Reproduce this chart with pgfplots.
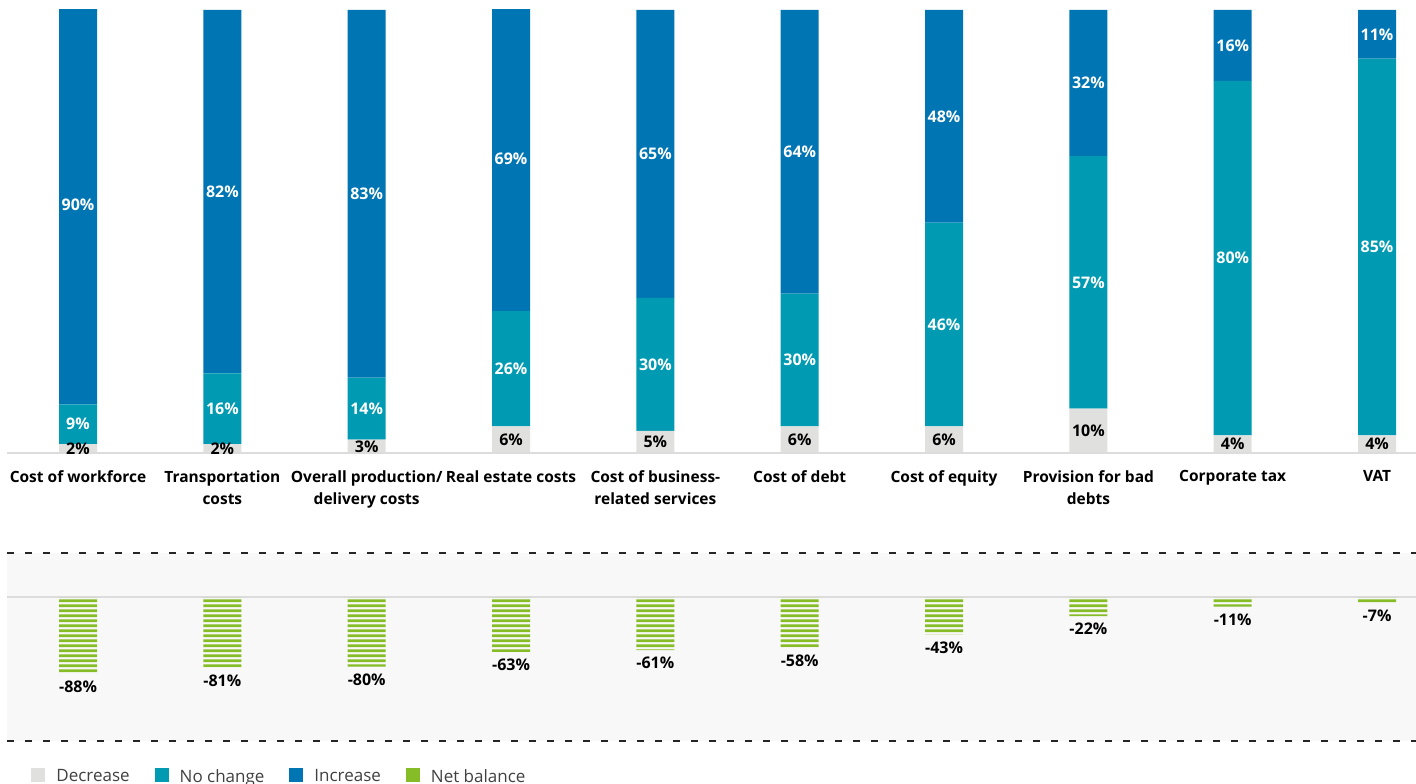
\documentclass[border=0pt]{standalone}
\usepackage{fontspec}
\setmainfont{Open Sans}
\usepackage{pgfplots}
\pgfplotsset{compat=1.18}
\usetikzlibrary{patterns.meta}
\definecolor{cDec}{HTML}{E0E0DE}
\definecolor{cNo}{HTML}{009AB2}
\definecolor{cInc}{HTML}{0075B3}
\definecolor{cGreen}{HTML}{86BC25}
\definecolor{cBand}{HTML}{F8F8F8}
\definecolor{cBase}{HTML}{DCDCDC}
\definecolor{cLeg}{HTML}{404040}
\pgfdeclarepattern{
  name=hstripes,
  type=uncolored,
  bottom left={\pgfpoint{0pt}{0pt}},
  top right={\pgfpoint{720pt}{2.65pt}},
  tile size={\pgfpoint{720pt}{2.65pt}},
  code={\pgfpathrectangle{\pgfpoint{0pt}{0.55pt}}{\pgfpoint{720pt}{1.5pt}}\pgfusepath{fill}}
}
\newcommand\lbl{\fontsize{8}{11}\selectfont\bfseries}
\newcommand\catlbl{\fontsize{7.75}{11}\selectfont\bfseries}
\pgfplotsset{
  common/.style={
    scale only axis, width=704.5pt,
    xmin=-0.492, xmax=9.270,
    anchor=south west, clip=false,
  },
}
\begin{document}
\begin{tikzpicture}
% ---------- top stacked bars ----------
\begin{axis}[common, clip=true,
  at={(3.5pt,165pt)}, height=221.5pt,
  ymin=0, ymax=100,
  ybar stacked, bar width=19pt,
  axis line style={draw=none}, major tick length=0pt,
  ytick=\empty,
  xtick={0,...,9},
  xticklabels={Cost of workforce,{Transportation\\costs},{Overall production/\\delivery costs},Real estate costs,{Cost of business-\\related services},Cost of debt,Cost of equity,{Provision for bad\\debts},Corporate tax,VAT},
  xticklabel style={align=center, font=\catlbl, text=black, anchor=north, yshift=-5.2pt},
]
\addplot[fill=cDec, draw=none] coordinates {(0,2) (1,2) (2,3) (3,6) (4,5) (5,6) (6,6) (7,10) (8,4) (9,4)};
\addplot[fill=cNo, draw=none] coordinates {(0,9) (1,16) (2,14) (3,26) (4,30) (5,30) (6,46) (7,57) (8,80) (9,85)};
\addplot[fill=cInc, draw=none] coordinates {(0,90) (1,82) (2,83) (3,69) (4,65) (5,64) (6,48) (7,33) (8,16) (9,11)};
\end{axis}
% ---------- labels inside the stacked bars ----------
\begin{axis}[common,
  at={(3.5pt,165pt)}, height=221.5pt,
  ymin=0, ymax=100, hide axis,
]
\draw[cBase, line width=1pt] (rel axis cs:0,0) -- (rel axis cs:1,0);
\addplot[draw=none, mark=none, nodes near coords={\pgfplotspointmeta\%}, point meta=explicit symbolic,
  every node near coord/.append style={anchor=center, font=\lbl, text=black}]
  table[meta=l] {
x y l
0 1 2
1 1 2
2 1.5 3
3 3 6
4 2.5 5
5 3 6
6 3 6
7 5 10
8 2 4
9 2 4
};
\addplot[draw=none, mark=none, nodes near coords={\pgfplotspointmeta\%}, point meta=explicit symbolic,
  every node near coord/.append style={anchor=center, font=\lbl, text=white}]
  table[meta=l] {
x y l
0 6.5 9
1 10 16
2 10 14
3 19 26
4 20 30
5 21 30
6 29 46
7 38.5 57
8 44 80
9 46.5 85
0 56 90
1 59 82
2 58.5 83
3 66.5 69
4 67.5 65
5 68 64
6 76 48
7 83.5 32
8 92 16
9 94.5 11
};
\end{axis}
% ---------- bottom net balance ----------
\begin{axis}[common,
  at={(3.5pt,21pt)}, height=94pt,
  ymin=-165.5, ymax=50.6,
  axis background/.style={fill=cBand},
  axis line style={draw=none}, major tick length=0pt,
  xtick=\empty, ytick=\empty,
  ybar, bar width=19pt, bar shift=0pt,
  legend columns=4,
  legend cell align=left,
  legend image code/.code={\fill[#1, draw=none] (0pt,-2.3pt) rectangle (7pt,4.7pt);},
  legend style={draw=none, fill=none, at={(axis description cs:0.0128,-0.105)}, anchor=north west,
    font=\fontsize{8.5}{10}\selectfont, text=cLeg,
    /tikz/every odd column/.append style={column sep=3.5pt},
    /tikz/every even column/.append style={column sep=10.5pt}},
]
\draw[cBase, line width=1pt] (axis cs:-0.492,0) -- (axis cs:9.270,0);
\draw[black!85, line width=1pt, dash pattern=on 3.5pt off 5.5pt] (rel axis cs:0,1) -- (rel axis cs:1,1);
\draw[black!85, line width=1pt, dash pattern=on 3.5pt off 5.5pt] (rel axis cs:0,0) -- (rel axis cs:1,0);
\addlegendimage{fill=cDec, draw=none}
\addlegendentry{Decrease}
\addlegendimage{fill=cNo, draw=none}
\addlegendentry{No change}
\addlegendimage{fill=cInc, draw=none}
\addlegendentry{Increase}
\addlegendimage{fill=cGreen, draw=none}
\addlegendentry{Net balance}
\addplot[draw=none, pattern={hstripes}, pattern color=cGreen, forget plot,
  nodes near coords={\pgfplotspointmeta\%}, point meta=explicit symbolic,
  every node near coord/.append style={font=\lbl, text=black, anchor=north}]
  table[meta=l] {
x y l
0 -88 -88
1 -81 -81
2 -80 -80
3 -63 -63
4 -61 -61
5 -58 -58
6 -43 -43
7 -22 -22
8 -11 -11
9 -7 -7
};
\end{axis}
\pgfresetboundingbox
\path[use as bounding box] (0pt,0pt) rectangle (708pt,391.5pt);
\end{tikzpicture}
\end{document}
